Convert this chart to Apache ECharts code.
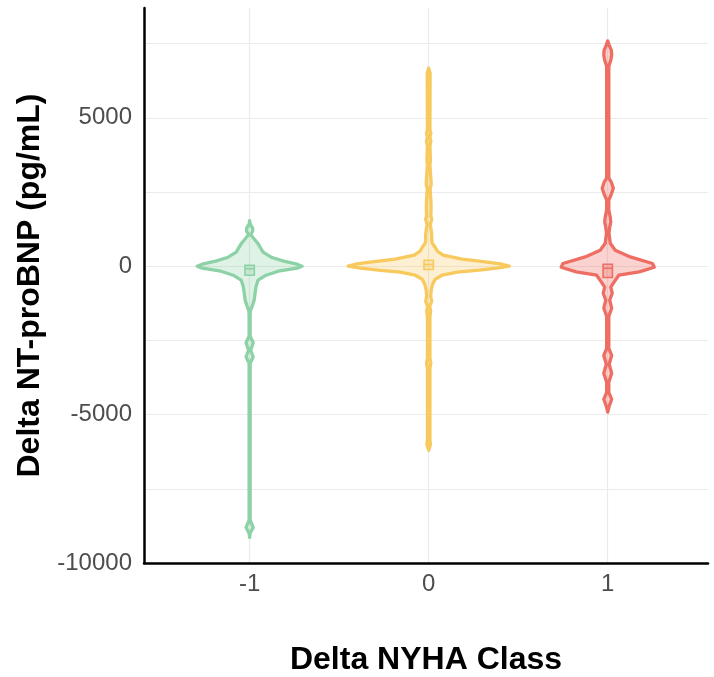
<!DOCTYPE html>
<html>
<head>
<meta charset="utf-8">
<script src="https://cdn.jsdelivr.net/npm/echarts@6/dist/echarts.min.js"></script>
<style>html,body{margin:0;padding:0;background:#fff}#c{width:714px;height:677px}</style>
</head>
<body>
<div id="c"></div>
<script>
// Categories (Delta NYHA Class)
const categories = ['-1', '0', '1'];
const categoryValues = [-1, 0, 1];
// y tick labels and gridline values
const yTickLabels = [-10000, -5000, 0, 5000];
const yGridValues = [-10000, -7500, -5000, -2500, 0, 2500, 5000, 7500];

// Violin profiles: [Delta NT-proBNP (pg/mL), half width (category units)]
const violinMinus1 = [
  [1534, 0], [1416, 0.003], [1281, 0.017], [1180, 0.017], [1062, 0.006], [944, 0.022],
  [775, 0.045], [607, 0.062], [472, 0.075], [303, 0.12], [169, 0.19], [67, 0.265],
  [0, 0.293], [-67, 0.265], [-169, 0.16], [-303, 0.092], [-472, 0.047], [-674, 0.036],
  [-877, 0.031], [-1146, 0.025], [-1349, 0.014], [-1517, 0.004], [-1686, 0.003],
  [-2360, 0.003], [-2580, 0.02], [-2831, 0.006], [-3050, 0.02], [-3270, 0.003],
  [-8560, 0.003], [-8800, 0.02], [-9000, 0.003], [-9140, 0]
];
const violin0 = [
  [6673, 0], [6504, 0.008], [4583, 0.007], [4482, 0.012], [4347, 0.007], [4213, 0.012],
  [4044, 0.007], [3572, 0.01], [3404, 0.007], [2966, 0.012], [2764, 0.014], [2596, 0.008],
  [2124, 0.013], [1888, 0.013], [1686, 0.012], [1584, 0.017], [1416, 0.009], [1079, 0.017],
  [877, 0.017], [775, 0.02], [640, 0.036], [506, 0.048], [371, 0.08], [236, 0.187],
  [135, 0.327], [67, 0.41], [0, 0.45], [-67, 0.38], [-135, 0.282], [-202, 0.16],
  [-303, 0.075], [-438, 0.036], [-607, 0.022], [-809, 0.014], [-1011, 0.011], [-1180, 0.017],
  [-1349, 0.006], [-1517, 0.011], [-1686, 0.007], [-3102, 0.007], [-3270, 0.012],
  [-3438, 0.007], [-5866, 0.007], [-6000, 0.01], [-6200, 0]
];
const violin1 = [
  [7593, 0], [7450, 0.008], [7281, 0.02], [7113, 0.022], [6942, 0.017], [6740, 0.006],
  [2966, 0.006], [2831, 0.02], [2629, 0.031], [2427, 0.02], [2225, 0.006], [1888, 0.006],
  [1652, 0.014], [1483, 0.017], [1315, 0.011], [1113, 0.007], [775, 0.014], [539, 0.042],
  [313, 0.126], [91, 0.25], [-34, 0.26], [-192, 0.176], [-303, 0.062], [-529, 0.036],
  [-708, 0.017], [-910, 0.025], [-1146, 0.011], [-1416, 0.022], [-1686, 0.006],
  [-2765, 0.006], [-3001, 0.022], [-3304, 0.008], [-3607, 0.022], [-3910, 0.006],
  [-4247, 0.006], [-4483, 0.022], [-4718, 0.008], [-4920, 0]
];
const violinProfiles = [violinMinus1, violin0, violin1];

// Box summaries: q1, median, q3
const boxQ1 = [-303, -111, -381];
const boxMedian = [-84, 57, -70];
const boxQ3 = [34, 202, 67];

const strokeColors = ['#8dd2a6', '#f8c95c', '#ee6e64'];
const fillColors = ['rgba(141,210,166,0.28)', 'rgba(248,201,92,0.28)', 'rgba(238,110,100,0.30)'];

const chart = echarts.init(document.getElementById('c'), null, {renderer: 'canvas'});
const FONT = 'Liberation Sans, Arial, Helvetica, sans-serif';

const option = {
  backgroundColor: '#ffffff',
  animation: false,
  grid: {left: 144, right: 6, top: 8, bottom: 114, containLabel: false, outerBoundsMode: 'none'},
  xAxis: {
    type: 'value',
    min: -1.59,
    max: 1.56,
    name: 'Delta NYHA Class',
    nameLocation: 'middle',
    nameGap: 81,
    nameTextStyle: {fontFamily: FONT, fontWeight: 'bold', fontSize: 32, color: '#000'},
    axisLine: {show: true, onZero: false, lineStyle: {color: '#000', width: 2.5}},
    axisTick: {show: false, customValues: categoryValues},
    axisLabel: {
      customValues: categoryValues,
      formatter: function (v) { return categories[categoryValues.indexOf(v)]; },
      fontFamily: FONT, fontSize: 24, color: '#4d4d4d', margin: 9
    },
    splitLine: {show: true, lineStyle: {color: '#ebebeb', width: 1.2}}
  },
  yAxis: {
    type: 'value',
    min: -10000,
    max: 8700,
    name: 'Delta NT-proBNP (pg/mL)',
    nameLocation: 'middle',
    nameGap: 90,
    nameRotate: 90,
    nameTextStyle: {fontFamily: FONT, fontWeight: 'bold', fontSize: 32, color: '#000'},
    axisLine: {show: true, onZero: false, lineStyle: {color: '#000', width: 2.5}},
    axisTick: {show: false, customValues: yGridValues},
    axisLabel: {
      customValues: yTickLabels,
      formatter: function (v) { return String(v); },
      fontFamily: FONT, fontSize: 24, color: '#4d4d4d', margin: 12
    },
    splitLine: {show: true, lineStyle: {color: '#ebebeb', width: 1.2}}
  },
  series: [{
    type: 'custom',
    data: categoryValues.map(function (v, i) { return [v, boxMedian[i]]; }),
    encode: {x: 0, y: 1},
    renderItem: function (params, api) {
      const i = params.dataIndex;
      const x0 = api.value(0);
      const prof = violinProfiles[i];
      const right = prof.map(function (p) { return api.coord([x0 + p[1], p[0]]); });
      const left = prof.slice().reverse().map(function (p) { return api.coord([x0 - p[1], p[0]]); });
      const pts = right.concat(left);
      const bw = 0.026;
      const tl = api.coord([x0 - bw, boxQ3[i]]);
      const br = api.coord([x0 + bw, boxQ1[i]]);
      const ml = api.coord([x0 - bw, boxMedian[i]]);
      const mr = api.coord([x0 + bw, boxMedian[i]]);
      return {
        type: 'group',
        children: [
          {type: 'polygon', shape: {points: pts},
           style: {fill: fillColors[i], stroke: strokeColors[i], lineWidth: 3.3, lineJoin: 'round'}},
          {type: 'rect', shape: {x: tl[0], y: tl[1], width: br[0] - tl[0], height: br[1] - tl[1]},
           style: {fill: fillColors[i], stroke: strokeColors[i], lineWidth: 1.6}},
          {type: 'line', shape: {x1: ml[0], y1: ml[1], x2: mr[0], y2: mr[1]},
           style: {stroke: strokeColors[i], lineWidth: 1.6}}
        ]
      };
    }
  }]
};
chart.setOption(option);
</script>
</body>
</html>
